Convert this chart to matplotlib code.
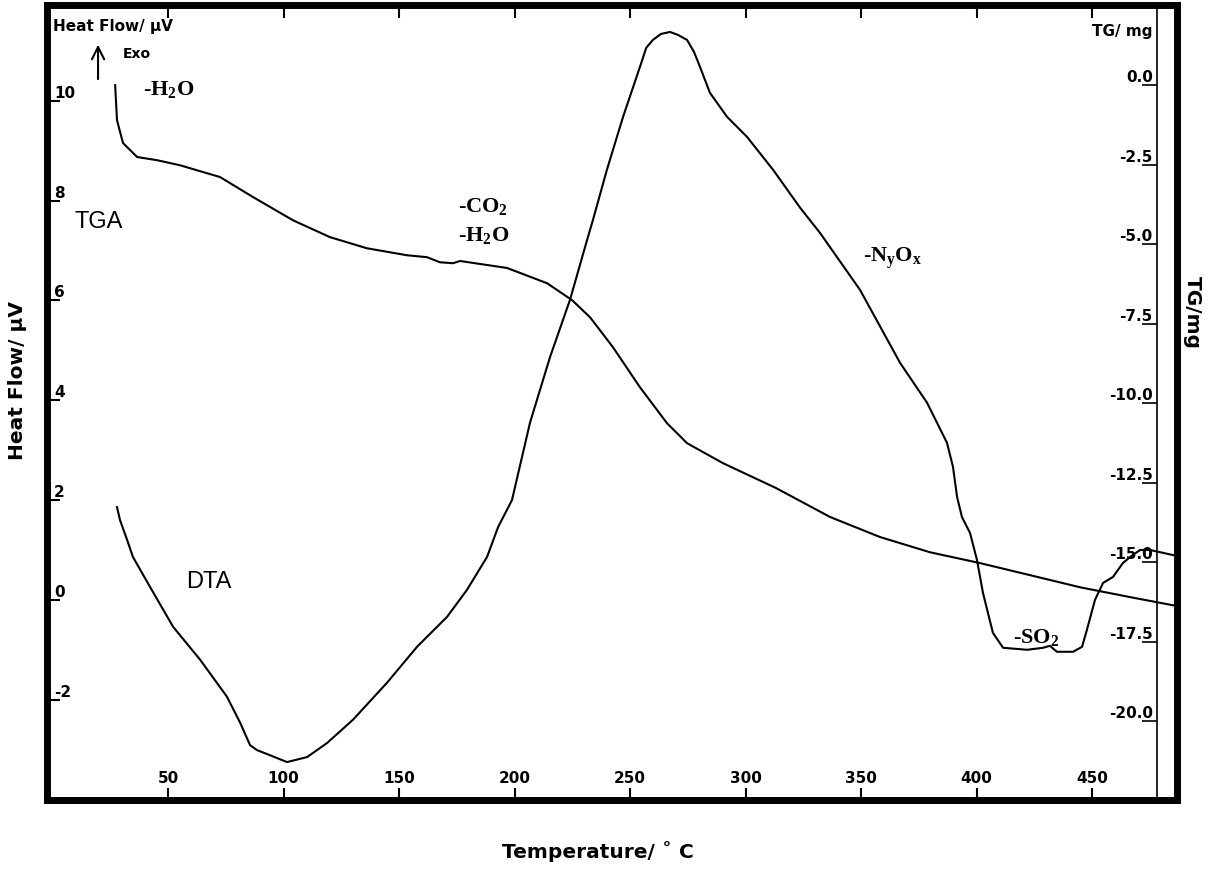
import matplotlib
matplotlib.use('Agg')
import matplotlib.pyplot as plt

# DTA trace: temperature (C) and heat flow (uV)
dta_temp = [27.9, 29.2, 32.3, 34.8, 42.2, 52.2, 63.9, 75.5, 81.2, 85.5, 88.5, 92.9,
            101.5, 110.2, 118.8, 130.1, 144.8, 157.8, 170.8, 179.4, 188.1, 192.9,
            198.9, 206.7, 215.4, 224.0, 231.4, 234.0, 240.0, 247.0, 254.3, 257.0, 259.9,
            263.4, 267.3, 270.8, 274.7, 277.7, 280.3, 284.6, 292.0, 300.6, 311.9, 323.6,
            332.3, 349.6, 366.9, 378.6, 387.2, 389.8, 391.6, 393.7, 397.2, 400.2, 402.8,
            407.1, 411.5, 421.9, 428.8, 431.8, 434.8, 441.8, 445.7, 447.8, 451.3, 454.8,
            459.1, 463.4, 466.5, 470.8, 475.1, 486.8]
dta_heat = [1.86, 1.60, 1.20, 0.86, 0.26, -0.54, -1.20, -1.94, -2.46, -2.91, -3.01, -3.09,
            -3.25, -3.15, -2.87, -2.40, -1.66, -0.94, -0.34, 0.20, 0.86, 1.46,
            2.00, 3.55, 4.87, 6.01, 7.21, 7.62, 8.62, 9.68, 10.68, 11.06, 11.22,
            11.34, 11.38, 11.32, 11.22, 10.98, 10.68, 10.16, 9.68, 9.28, 8.62, 7.86,
            7.35, 6.21, 4.75, 3.95, 3.15, 2.67, 2.06, 1.66, 1.34, 0.80, 0.14,
            -0.66, -0.96, -1.00, -0.96, -0.92, -1.04, -1.04, -0.94, -0.60, 0.00, 0.34,
            0.46, 0.74, 0.86, 1.00, 1.00, 0.88]

# TGA trace: temperature (C) and mass change (mg)
tga_temp = [27.1, 27.9, 30.5, 36.6, 45.2, 55.2, 72.5, 86.8, 104.1, 120.1, 136.1, 153.5,
            162.1, 167.7, 173.4, 176.4, 196.8, 214.1, 224.9, 232.7, 242.6, 254.3,
            266.0, 274.7, 290.3, 313.2, 336.6, 358.2, 379.9, 401.5, 423.2, 444.8,
            466.5, 486.8]
tga_mass = [0.00, -1.10, -1.82, -2.26, -2.36, -2.52, -2.89, -3.52, -4.25, -4.78, -5.13, -5.35,
            -5.41, -5.57, -5.60, -5.53, -5.75, -6.23, -6.76, -7.30, -8.24, -9.50,
            -10.63, -11.26, -11.89, -12.67, -13.58, -14.21, -14.69, -15.03, -15.41, -15.79,
            -16.10, -16.38]

temp_ticks = [50, 100, 150, 200, 250, 300, 350, 400, 450]
heat_ticks = [-2, 0, 2, 4, 6, 8, 10]
heat_labels = ['-2', '0', '2', '4', '6', '8', '10']
mass_ticks = [0.0, -2.5, -5.0, -7.5, -10.0, -12.5, -15.0, -17.5, -20.0]
mass_labels = ['0.0', '-2.5', '-5.0', '-7.5', '-10.0', '-12.5', '-15.0', '-17.5', '-20.0']

W, H = 1208, 893
fig = plt.figure(figsize=(W / 100, H / 100), dpi=100)
ax = fig.add_axes([47 / W, (H - 800) / H, (1177 - 47) / W, (800 - 5) / H])

ax.plot(dta_temp, dta_heat, color='black', lw=1.5, solid_joinstyle='round')
ax.set_xlim(-2.4, 486.8)
ax.set_ylim(-4.01, 11.92)

for s in ax.spines.values():
    s.set_linewidth(5)

tickfont = dict(family='DejaVu Sans', weight='bold', size=11)
ax.set_xticks(temp_ticks, [str(t) for t in temp_ticks], va='bottom', **tickfont)
ax.set_yticks(heat_ticks, heat_labels, ha='left', va='bottom', **tickfont)
ax.tick_params(axis='x', direction='in', length=9, width=1.5, pad=-10, top=True)
ax.tick_params(axis='y', direction='in', length=9, width=1.5, pad=-5, right=False)

# TG scale sits on the thin inner line
ax_tg = ax.twinx()
ax_tg.plot(tga_temp, tga_mass, color='black', lw=1.5, solid_joinstyle='round')
ax_tg.set_ylim(-22.48, 2.52)
for side in ['left', 'top', 'bottom']:
    ax_tg.spines[side].set_visible(False)
ax_tg.spines['right'].set_position(('axes', (1157 - 47) / (1177 - 47)))
ax_tg.spines['right'].set_linewidth(1.2)
ax_tg.set_yticks(mass_ticks, mass_labels, ha='right', va='bottom', **tickfont)
ax_tg.tick_params(axis='y', direction='in', length=11, width=1.2, pad=-3)

# labels inside the plot
ax.text(0.2, 11.48, 'Heat Flow/ µV', fontsize=11, fontweight='bold',
        family='DejaVu Sans', ha='left', va='center')
ax.text(476.4, 11.38, 'TG/ mg', fontsize=11, fontweight='bold',
        family='DejaVu Sans', ha='right', va='center')
ax.annotate('', xy=(19.7, 11.18), xytext=(19.7, 10.38),
            arrowprops=dict(arrowstyle='->', lw=1.5, color='black', mutation_scale=22))
ax.text(30.5, 10.94, 'Exo', fontsize=10, fontweight='bold', family='DejaVu Sans',
        ha='left', va='center')

serif = dict(family='Liberation Serif', weight='bold', fontsize=16, ha='left', va='center')
ax.text(39.0, 10.22, r'-H$\mathregular{_2}$O', **serif)
ax.text(175.5, 7.88, r'-CO$\mathregular{_2}$', **serif)
ax.text(175.5, 7.31, r'-H$\mathregular{_2}$O', **serif)
ax.text(350.9, 6.85, r'-N$\mathregular{_y}$O$\mathregular{_x}$', **serif)
ax.text(415.8, -0.76, r'-SO$\mathregular{_2}$', **serif)

sans = dict(family='Liberation Sans', fontsize=17, ha='left', va='center')
ax.text(9.7, 7.57, 'TGA', **sans)
ax.text(57.8, 0.36, 'DTA', **sans)

# axis titles
fig.text(18 / W, 1 - 380 / H, 'Heat Flow/ µV', rotation=90, ha='center', va='center',
         fontsize=14.5, fontweight='bold', family='DejaVu Sans')
fig.text(1192 / W, 1 - 312 / H, 'TG/mg', rotation=270, ha='center', va='center',
         fontsize=14.5, fontweight='bold', family='DejaVu Sans')
fig.text(598 / W, 1 - 852 / H, 'Temperature/ ˚ C', ha='center', va='center',
         fontsize=14.5, fontweight='bold', family=['DejaVu Sans'])

fig.savefig('out.png', dpi=100, facecolor='white')
